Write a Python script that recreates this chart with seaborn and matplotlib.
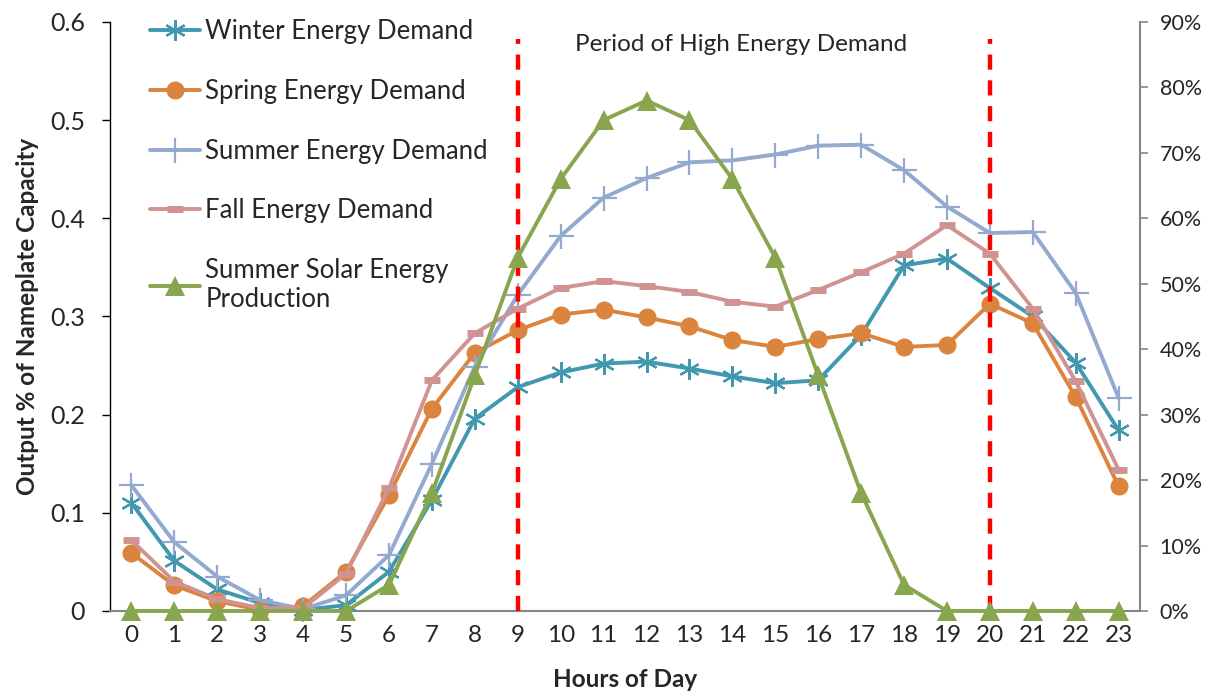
import matplotlib
matplotlib.use("Agg")
import matplotlib.pyplot as plt
import seaborn as sns
import pandas as pd
from matplotlib.ticker import FuncFormatter, MultipleLocator, FixedLocator

hours = list(range(24))
winter = [0.110, 0.051, 0.022, 0.008, 0.001, 0.006, 0.040, 0.113, 0.196, 0.228, 0.243, 0.252,
          0.254, 0.247, 0.239, 0.232, 0.235, 0.281, 0.352, 0.359, 0.329, 0.300, 0.253, 0.184]
spring = [0.059, 0.026, 0.010, 0.001, 0.005, 0.040, 0.118, 0.206, 0.263, 0.286, 0.302, 0.307,
          0.299, 0.290, 0.276, 0.269, 0.277, 0.283, 0.269, 0.271, 0.313, 0.293, 0.218, 0.127]
summer = [0.128, 0.070, 0.035, 0.011, 0.002, 0.016, 0.057, 0.150, 0.249, 0.322, 0.382, 0.421,
          0.441, 0.457, 0.459, 0.465, 0.474, 0.475, 0.449, 0.412, 0.385, 0.386, 0.324, 0.217]
fall = [0.072, 0.030, 0.012, 0.003, 0.003, 0.038, 0.125, 0.235, 0.283, 0.308, 0.329, 0.336,
        0.331, 0.325, 0.315, 0.310, 0.327, 0.345, 0.364, 0.393, 0.364, 0.308, 0.234, 0.144]
solar_pct = [0, 0, 0, 0, 0, 0, 4, 18, 36, 54, 66, 75, 78, 75, 66, 54, 36, 18, 4, 0, 0, 0, 0, 0]
left_ticks = [0, 0.1, 0.2, 0.3, 0.4, 0.5, 0.6]
right_ticks = [0, 10, 20, 30, 40, 50, 60, 70, 80, 90]
peak_bounds = [9, 20]

df = pd.DataFrame({"hour": hours, "winter": winter, "spring": spring,
                   "summer": summer, "fall": fall, "solar": solar_pct})

sns.set_theme(style="white")
plt.rcParams['font.family'] = ['Lato', 'DejaVu Sans']

fig = plt.figure(figsize=(12.09, 6.91), dpi=100)
ax = fig.add_axes([0.091, 0.1158, 0.852, 0.8524])
ax2 = ax.twinx()

c_w, c_sp, c_su, c_f, c_so = "#4198AF", "#DB843D", "#93A9CF", "#D19392", "#89A54E"
lw = 2.8

sns.lineplot(data=df, x="hour", y="winter", ax=ax, color=c_w, lw=lw, marker=(6, 2, 0),
             markersize=15, markeredgewidth=1.6, markeredgecolor=c_w, label="Winter Energy Demand",
             clip_on=False, zorder=3)
sns.lineplot(data=df, x="hour", y="spring", ax=ax, color=c_sp, lw=lw, marker="o",
             markersize=13, markeredgewidth=0, label="Spring Energy Demand", clip_on=False, zorder=3)
sns.lineplot(data=df, x="hour", y="summer", ax=ax, color=c_su, lw=lw, marker="+",
             markersize=18, markeredgewidth=1.6, markeredgecolor=c_su, label="Summer Energy Demand",
             clip_on=False, zorder=3)
sns.lineplot(data=df, x="hour", y="fall", ax=ax, color=c_f, lw=lw, marker="_",
             markersize=11, markeredgewidth=5, markeredgecolor=c_f, label="Fall Energy Demand",
             clip_on=False, zorder=3)
sns.lineplot(data=df, x="hour", y="solar", ax=ax2, color=c_so, lw=lw, marker="^",
             markersize=15, markeredgewidth=0, label="Summer Solar Energy\nProduction",
             clip_on=False, zorder=3)

for b in peak_bounds:
    ax.vlines(b, 0, 0.583, colors="#FF0000", linestyles=(0, (3.4, 2.4)), lw=3.2, zorder=6)

ax.text(14.2, 0.577, "Period of High Energy Demand", ha="center", va="center", fontsize=17.5)

ax.set_xlim(-0.5, 23.5)
ax.set_ylim(0, 0.6)
ax2.set_ylim(0, 90)
ax.yaxis.set_major_locator(FixedLocator(left_ticks))
ax.yaxis.set_major_formatter(FuncFormatter(lambda v, p: "0" if v == 0 else f"{v:.1f}"))
ax2.yaxis.set_major_locator(FixedLocator(right_ticks))
ax2.yaxis.set_major_formatter(FuncFormatter(lambda v, p: f"{v:.0f}%"))

ax.set_xticks(hours)
ax.set_xticklabels([str(h) for h in hours], fontsize=17.5)
ax.xaxis.set_minor_locator(MultipleLocator(1, offset=0.5))
ax.tick_params(axis="x", which="major", length=0, pad=10)
ax.tick_params(axis="x", which="minor", length=7, color="#868686", width=1.2, direction="out")
ax.tick_params(axis="y", which="major", length=6, color="black", width=1, direction="out",
               labelsize=18, pad=12, left=True)
ax2.tick_params(axis="y", which="major", length=6, color="#868686", width=1.2, direction="out",
                labelsize=15.5, pad=8, right=True)

for a in (ax, ax2):
    a.spines["top"].set_visible(False)
ax.spines["right"].set_visible(False)
ax.spines["left"].set_color("black")
ax.spines["left"].set_linewidth(1)
ax.spines["bottom"].set_color("#868686")
ax.spines["bottom"].set_linewidth(1.5)
ax2.spines["left"].set_visible(False)
ax2.spines["bottom"].set_visible(False)
ax2.spines["right"].set_color("#868686")
ax2.spines["right"].set_linewidth(1.5)

ax.set_ylabel("Output % of Nameplate Capacity", fontsize=17.5, fontweight="bold", labelpad=8)
ax.set_xlabel("Hours of Day", fontsize=17.5, fontweight="bold", labelpad=16)
ax2.set_ylabel("")

h1, l1 = ax.get_legend_handles_labels()
h2, l2 = ax2.get_legend_handles_labels()
if ax2.get_legend():
    ax2.get_legend().remove()
leg = ax.legend(h1 + h2, l1 + l2, loc="upper left", bbox_to_anchor=(0.124, 0.972),
                bbox_transform=fig.transFigure, frameon=False, fontsize=18.5, borderpad=0,
                handlelength=1.95, handletextpad=0.2, labelspacing=1.35, borderaxespad=0)

fig.savefig("out.png", dpi=100)
